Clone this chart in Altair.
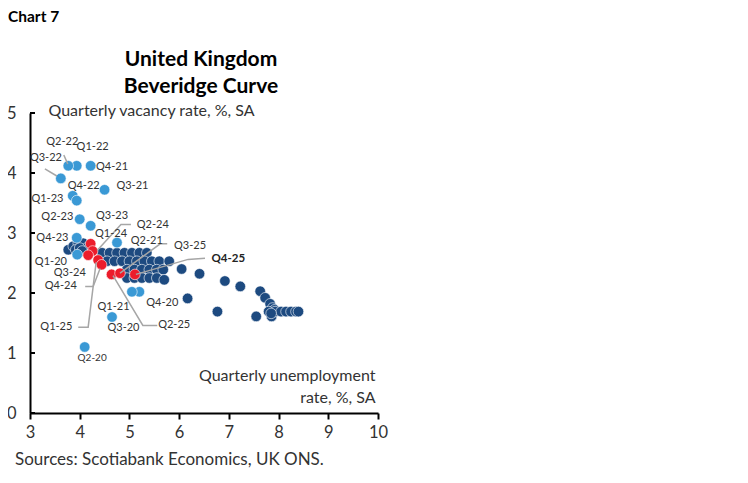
import altair as alt
import pandas as pd

# ---- data ----
# historical quarters (dark blue)
hist_x = [3.77, 3.87, 3.97, 4.07, 4.14, 3.92, 4.00, 4.05,
          4.45, 4.60, 4.75, 4.90, 5.05, 5.20, 5.35,
          4.55, 4.70, 4.85, 5.00, 5.15, 5.30, 5.45, 5.60, 5.80,
          4.95, 5.10, 5.25, 5.40, 5.55, 5.68, 6.05,
          4.95, 5.10, 5.25, 5.40, 5.55, 5.70,
          6.41, 6.92, 7.23, 6.17,
          7.63, 7.73, 7.83, 7.88, 7.92, 7.80, 7.86, 7.55, 6.77,
          7.93, 8.05, 8.15, 8.25, 8.35, 8.40, 7.85]
hist_y = [2.72, 2.78, 2.83, 2.83, 2.75, 2.72, 2.75, 2.70,
          2.67, 2.67, 2.67, 2.67, 2.67, 2.67, 2.67,
          2.53, 2.53, 2.53, 2.53, 2.53, 2.53, 2.53, 2.53, 2.53,
          2.39, 2.39, 2.39, 2.39, 2.39, 2.39, 2.40,
          2.25, 2.25, 2.25, 2.25, 2.25, 2.22,
          2.32, 2.20, 2.11, 1.91,
          2.03, 1.92, 1.82, 1.75, 1.72, 1.69, 1.61, 1.61, 1.69,
          1.69, 1.69, 1.69, 1.69, 1.69, 1.69, 1.66]

# 2020-2023 quarters (light blue)
covid_q = ["Q1-20", "Q2-20", "Q3-20", "Q4-20", "Q1-21", "Q2-21", "Q3-21", "Q4-21",
           "Q1-22", "Q2-22", "Q3-22", "Q4-22", "Q1-23", "Q2-23", "Q3-23", "Q4-23"]
covid_x = [3.95, 4.10, 4.65, 5.20, 5.05, 4.75, 4.50, 4.22,
           3.94, 3.77, 3.62, 3.86, 3.94, 4.00, 4.22, 3.94]
covid_y = [2.64, 1.10, 1.60, 2.02, 2.02, 2.84, 3.72, 4.12,
           4.12, 4.12, 3.91, 3.62, 3.54, 3.23, 3.12, 2.92]

# 2024-2025 quarters (red)
recent_q = ["Q1-24", "Q2-24", "Q3-24", "Q4-24", "Q1-25", "Q2-25", "Q3-25", "Q4-25"]
recent_x = [4.22, 4.26, 4.17, 4.37, 4.44, 4.64, 4.81, 5.11]
recent_y = [2.82, 2.70, 2.63, 2.55, 2.47, 2.31, 2.33, 2.31]

y_ticks = [0, 1, 2, 3, 4, 5]
x_ticks = [3, 4, 5, 6, 7, 8, 9, 10]

# ---- annotation layout (label anchors and leader lines, in data units) ----
ann_text = ["Q2-22", "Q1-22", "Q4-21", "Q3-22", "Q4-22", "Q3-21", "Q1-23", "Q2-23",
            "Q3-23", "Q4-23", "Q1-24", "Q2-24", "Q2-21", "Q3-25", "Q1-20", "Q3-24",
            "Q4-24", "Q1-25", "Q3-20", "Q2-25", "Q1-21", "Q4-20"]
ann_x = [3.65, 4.26, 4.65, 3.32, 4.08, 5.06, 3.35, 3.55,
         4.65, 3.45, 4.63, 5.47, 5.35, 6.22, 3.42, 3.80,
         3.62, 3.53, 4.88, 5.90, 4.68, 5.66]
ann_y = [4.52, 4.44, 4.10, 4.25, 3.79, 3.79, 3.56, 3.27,
         3.29, 2.91, 2.99, 3.14, 2.86, 2.79, 2.51, 2.33,
         2.11, 1.43, 1.41, 1.46, 1.76, 1.84]

lead_lab = ["Q2-22", "Q2-22", "Q3-22", "Q3-22",
            "Q2-24", "Q2-24", "Q2-24",
            "Q2-21", "Q2-21", "Q2-21",
            "Q4-25", "Q4-25", "Q4-25",
            "Q1-25", "Q1-25", "Q1-25",
            "Q4-24", "Q4-24", "Q4-24",
            "Q2-25", "Q2-25", "Q2-25"]
lead_ord = [0, 1, 0, 1, 0, 1, 2, 0, 1, 2, 0, 1, 2, 0, 1, 2, 0, 1, 2, 0, 1, 2]
lead_x = [3.68, 3.76, 3.30, 3.54,
          5.03, 4.83, 4.35,
          5.76, 5.62, 4.81,
          6.52, 6.18, 5.13,
          3.97, 4.17, 4.33,
          4.11, 4.27, 4.41,
          5.56, 5.27, 4.67]
lead_y = [4.30, 4.15, 4.07, 3.95,
          3.14, 3.14, 2.71,
          2.82, 2.82, 2.33,
          2.58, 2.56, 2.31,
          1.43, 1.43, 2.51,
          2.11, 2.11, 2.41,
          1.46, 1.46, 2.29]

# ---- tables ----
pts = pd.concat([
    pd.DataFrame({"x": hist_x, "y": hist_y, "g": "hist"}),
    pd.DataFrame({"x": covid_x, "y": covid_y, "g": "covid"}),
    pd.DataFrame({"x": recent_x, "y": recent_y, "g": "recent"}),
], ignore_index=True)
pts["o"] = range(len(pts))

ann = pd.DataFrame({"x": ann_x, "y": ann_y, "t": ann_text})
lead = pd.DataFrame({"x": lead_x, "y": lead_y, "lab": lead_lab, "o": lead_ord})
bold_ann = pd.DataFrame({"x": [6.99], "y": [2.56], "t": ["Q4-25"]})
small_ann = pd.DataFrame({"x": [4.25], "y": [0.91], "t": ["Q2-20"]})
ticks = pd.DataFrame({"y": y_ticks})

FONT = "Lato"
TXT = "#333333"

xs = alt.Scale(domain=[3, 10], nice=False, zero=False)
ys = alt.Scale(domain=[0, 5], nice=False)

xaxis = alt.Axis(values=x_ticks, grid=False, domainColor="black", domainWidth=2,
                 tickColor="black", tickWidth=2, tickSize=6, labelFont=FONT,
                 labelFontSize=16.5, labelColor=TXT, labelPadding=5, labelFlush=False,
                 title=["Quarterly unemployment", "rate, %, SA"], titleFont=FONT,
                 titleFontSize=16, titleFontWeight="normal", titleColor=TXT,
                 titleAlign="right", titleAnchor="end", titleX=345, titleY=-33,
                 titleBaseline="alphabetic", titleLineHeight=22)
yaxis = alt.Axis(values=y_ticks, grid=False, domainColor="black", domainWidth=2,
                 ticks=False, tickSize=0, labelFont=FONT, labelFontSize=16.5,
                 labelColor=TXT, labelPadding=14, labelFlush=False,
                 title="Quarterly vacancy rate, %, SA", titleFont=FONT,
                 titleFontSize=16, titleFontWeight="normal", titleColor=TXT,
                 titleAngle=0, titleAlign="left", titleBaseline="middle",
                 titleX=18, titleY=-3)

X = alt.X("x:Q", scale=xs, axis=xaxis)
Y = alt.Y("y:Q", scale=ys, axis=yaxis)

points = alt.Chart(pts).mark_circle(size=112, opacity=1, stroke="white",
                                    strokeWidth=0.6).encode(
    x=X, y=Y,
    color=alt.Color("g:N", scale=alt.Scale(domain=["hist", "covid", "recent"],
                                           range=["#1d4a80", "#3a99d5", "#ec1c2b"]),
                    legend=None),
    order=alt.Order("o:Q"),
)

lines = alt.Chart(lead).mark_line(color="#a6a6a6", strokeWidth=1.5).encode(
    x=X, y=Y, detail="lab:N", order="o:Q")

labels = alt.Chart(ann).mark_text(font=FONT, fontSize=11, color=TXT,
                                  align="center", baseline="middle").encode(
    x=X, y=Y, text="t:N")
labels_bold = alt.Chart(bold_ann).mark_text(font=FONT, fontSize=11.5, fontWeight="bold",
                                            color="#222222", align="center",
                                            baseline="middle").encode(x=X, y=Y, text="t:N")
labels_small = alt.Chart(small_ann).mark_text(font=FONT, fontSize=10, color=TXT,
                                              align="center", baseline="middle").encode(
    x=X, y=Y, text="t:N")

ytick_rules = alt.Chart(ticks).mark_rule(color="black", strokeWidth=2).encode(
    y=Y, x=alt.value(0), x2=alt.value(5))


def free_text(txt, px, py, size, weight="normal", align="left", color=TXT):
    return alt.Chart(pd.DataFrame({"t": [txt]})).mark_text(
        font=FONT, fontSize=size, fontWeight=weight, color=color, align=align,
        baseline="middle").encode(text="t:N", x=alt.value(px), y=alt.value(py))


chart_no = free_text("Chart 7", -22, -96, 15.5, "bold", color="black")
head1 = free_text("United Kingdom", 171, -53, 21, "bold", "center", "black")
head2 = free_text("Beveridge Curve", 171, -26, 21, "bold", "center", "black")
source = free_text("Sources: Scotiabank Economics, UK ONS.", -15, 347, 17)

chart = alt.layer(points, lines, labels, labels_bold, labels_small, ytick_rules,
                  chart_no, head1, head2, source).properties(
    width=348, height=300,
    padding={"left": 22, "top": 105, "right": 330, "bottom": 60},
    autosize=alt.AutoSizeParams(type="none"),
).configure_view(stroke=None)

chart.save("out.html", embed_options={"renderer": "svg", "actions": False})
